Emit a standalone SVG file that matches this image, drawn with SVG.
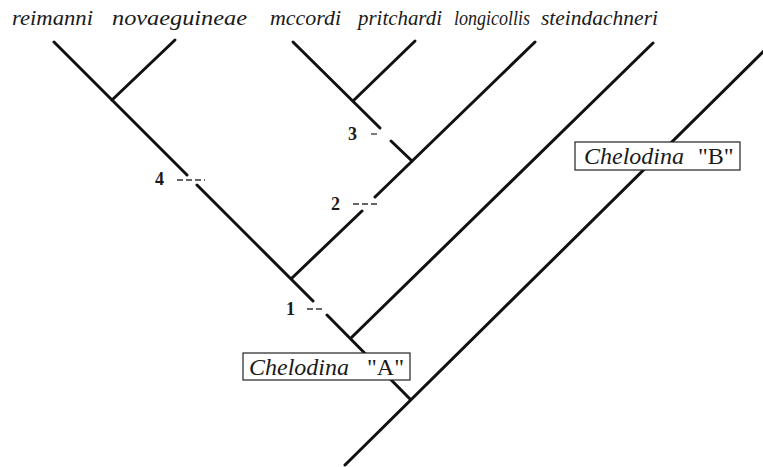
<svg xmlns="http://www.w3.org/2000/svg" width="763" height="467" viewBox="0 0 763 467">
<style>
.taxon{font-family:"Liberation Serif","Times New Roman",serif;font-style:italic;font-size:22px;fill:#1a1a1a}
.num{font-family:"Liberation Serif","Times New Roman",serif;font-weight:bold;font-size:18px;fill:#1a1a1a}
.br{stroke:#111;stroke-width:3;fill:none;stroke-linecap:round}
.tick{stroke:#333;stroke-width:1.3;stroke-dasharray:6 3;fill:none}
.box{fill:#fff;stroke:#222;stroke-width:1.2}
.bl{font-family:"Liberation Serif","Times New Roman",serif;font-size:24px;fill:#1a1a1a}
</style>
<rect width="763" height="467" fill="#fff"/>
<g id="taxa">
  <g id="t-reimanni"><text class="taxon" x="12" y="25" textLength="81" lengthAdjust="spacingAndGlyphs">reimanni</text></g>
  <g id="t-novaeguineae"><text class="taxon" x="112" y="25" textLength="135" lengthAdjust="spacingAndGlyphs">novaeguineae</text></g>
  <g id="t-mccordi"><text class="taxon" x="270" y="25" textLength="71" lengthAdjust="spacingAndGlyphs">mccordi</text></g>
  <g id="t-pritchardi"><text class="taxon" x="358" y="25" textLength="84" lengthAdjust="spacingAndGlyphs">pritchardi</text></g>
  <g id="t-longicollis"><text class="taxon" x="454" y="25" textLength="76" lengthAdjust="spacingAndGlyphs">longicollis</text></g>
  <g id="t-steindachneri"><text class="taxon" x="541" y="25" textLength="117" lengthAdjust="spacingAndGlyphs">steindachneri</text></g>
</g>
<g id="connectors">
  <!-- reimanni trunk -->
  <path class="br" d="M54,42 L187,175 M197,185 L313,301 M327,315 L410,399"/>
  <!-- novaeguineae -->
  <path class="br" d="M175,40 L112,100"/>
  <!-- mccordi -->
  <path class="br" d="M293,42 L380,128 M391,141 L412,161"/>
  <!-- pritchardi -->
  <path class="br" d="M415,41 L353,101"/>
  <!-- line 5 -->
  <path class="br" d="M535,42 L375,197 M362,211 L292,278"/>
  <!-- line 6 -->
  <path class="br" d="M653,43 L352,337"/>
  <!-- steindachneri -->
  <path class="br" d="M766,49 L345,465"/>
  <!-- character ticks -->
  <line class="tick" x1="177" y1="180" x2="205" y2="180"/>
  <line class="tick" x1="371" y1="134" x2="377" y2="134"/>
  <line class="tick" x1="353" y1="204" x2="380" y2="204"/>
  <line class="tick" x1="307" y1="309" x2="323" y2="309"/>
</g>
<g id="n4"><text class="num" x="155" y="185">4</text></g>
<g id="n3"><text class="num" x="348" y="140">3</text></g>
<g id="n2"><text class="num" x="331" y="210">2</text></g>
<g id="n1"><text class="num" x="286" y="315">1</text></g>
<g id="boxA">
  <rect class="box" x="243" y="353" width="167" height="27"/>
  <text class="bl" x="249" y="375"><tspan font-style="italic">Chelodina</tspan><tspan x="367">"A"</tspan></text>
</g>
<g id="boxB">
  <rect class="box" x="575" y="142" width="165" height="28"/>
  <text class="bl" x="584" y="164"><tspan font-style="italic">Chelodina</tspan><tspan x="698">"B"</tspan></text>
</g>
</svg>
